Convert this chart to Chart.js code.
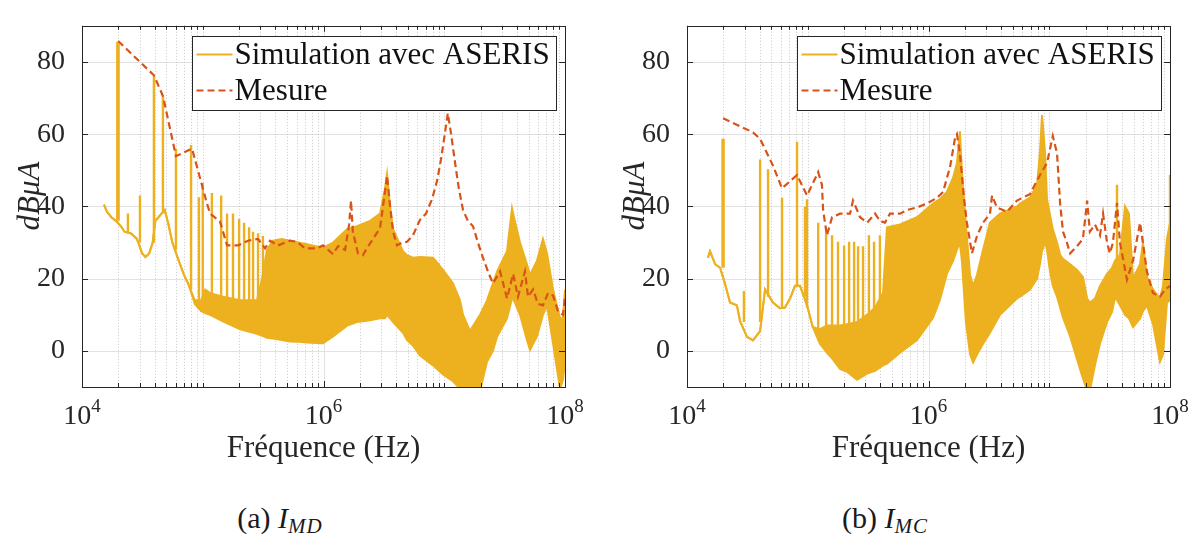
<!DOCTYPE html>
<html>
<head>
<meta charset="utf-8">
<script src="https://cdn.jsdelivr.net/npm/chart.js@4.4.1/dist/chart.umd.min.js"></script>
<style>
html, body { margin: 0; padding: 0; background: #fff; overflow: hidden; }
#page { position: relative; width: 1198px; height: 538px; }
canvas { position: absolute; top: 0; }
.cap { position: absolute; top: 500px; transform: translateX(-50%); font-family: 'Liberation Serif';
       font-size: 30px; line-height: 36px; color: #1a1a1a; white-space: nowrap; }
.cap i { font-style: italic; }
.cap sub { font-style: italic; font-size: 21px; letter-spacing: 1px; vertical-align: -5px; line-height: 0; }
</style>
</head>
<body>
<div id="page">
    <canvas id="chartMD" width="600" height="470" style="left:0px;width:600px;height:470px"></canvas>
    <canvas id="chartMC" width="600" height="470" style="left:598px;width:600px;height:470px"></canvas>
    <div class="cap" style="left:280px">(a) <i>I</i><sub>MD</sub></div>
    <div class="cap" style="left:885px">(b) <i>I</i><sub>MC</sub></div>
</div>
<script>
// axes
const decades = [4, 6, 8];
const yTicks = [0, 20, 40, 60, 80];
const legendLabels = ['Simulation avec ASERIS', 'Mesure'];

// (a) I_MD : simulation envelope (upper / lower edge of the dense trace)
const bandFreqMD = [1.52e4, 1.61e4, 1.75e4, 1.91e4, 2.1e4, 2.25e4, 2.55e4, 2.85e4, 3.15e4, 3.35e4,
    3.6e4, 3.85e4, 4.05e4, 4.3e4, 4.55e4, 4.85e4, 5.2e4, 5.6e4, 6.4e4, 7.0e4,
    7.6e4, 8.6e4, 9.7e4, 1.05e5, 1.15e5, 1.47e5, 2.04e5, 2.81e5, 3.1e5, 3.4e5,
    3.82e5, 4.5e5, 5.28e5, 6.2e5, 7.3e5, 8.6e5, 9.9e5, 1.2e6, 1.57e6, 1.89e6,
    2.43e6, 2.94e6, 3.23e6, 3.36e6, 3.56e6, 3.77e6, 4.55e6, 4.92e6, 5.5e6, 6.3e6,
    8.07e6, 8.71e6, 9.77e6, 1.18e7, 1.35e7, 1.43e7, 1.63e7, 1.98e7, 2.26e7, 2.53e7,
    2.74e7, 3.31e7, 3.64e7, 3.72e7, 4.24e7, 4.84e7, 5.13e7, 5.86e7, 6.57e7, 7.1e7,
    7.96e7, 9.1e7, 9.62e7, 1e8];
const bandHighMD = [40.5, 38.5, 37, 36, 34.5, 33, 32.5, 31, 27, 26,
    27, 30, 36, 37, 38, 39, 35, 30, 24.5, 21,
    18.5, 14, 14, 17, 16, 15, 14, 14, 20, 28,
    30.5, 31, 30.5, 30, 29.5, 29, 28.5, 30, 33.7, 34.5,
    36, 38, 45, 49, 40, 33.7, 27.6, 26.5, 25.8, 26,
    25.8, 24.5, 22.4, 18.7, 14, 10, 5.5, 10, 14, 18.7,
    22, 27.6, 39.5, 38, 30, 24, 21, 25, 31, 27,
    17, 9, 9, 17];
const bandLowMD = [40.5, 38.5, 37, 36, 34.5, 33, 32.5, 31, 27, 26,
    27, 30, 36, 37, 38, 39, 35, 30, 24.5, 21,
    18.5, 13, 11, 10.5, 10, 8.2, 6, 4.7, 4.2, 3.6,
    3.4, 3, 2.6, 2.5, 2.3, 2.2, 2.1, 4, 7, 8,
    8.5, 9, 9, 10, 9, 8, 5, 3, 1.5, -1.3,
    -4, -5, -6.5, -8.4, -10.5, -11, -11, -11, -3, 0,
    4, 9, 14.5, 14.5, 10, 3, 0.3, 4, 10, 12.6,
    2, -10.5, -8, -3];
// resonance spikes
const spikeFreqMD = [1.96e4, 2.01e4, 2.4e4, 3.02e4, 3.94e4, 4.68e4, 6.0e4, 8.0e4, 9.3e4, 1.0e5,
    1.19e5, 1.42e5, 1.59e5, 1.78e5, 2.0e5, 2.2e5, 2.42e5, 2.61e5, 2.87e5, 3.15e5];
const spikeBaseMD = [36, 36, 33, 30, 30, 38, 28, 17, 12, 11,
    14, 14, 14, 14, 14, 14, 14, 14, 14, 20];
const spikeTopMD = [85.5, 85, 38, 43, 76, 70.5, 56, 57, 42.5, 46.5,
    43.7, 43, 38, 38, 36.5, 35.5, 34.2, 33, 32.6, 31.8];
// measurement
const mesureFreqMD = [1.99e4, 3.94e4, 4.69e4, 6.0e4, 8.15e4, 1.08e5, 1.15e5, 1.39e5, 1.59e5, 1.96e5,
    2.37e5, 2.87e5, 3.28e5, 3.61e5, 4.2e5, 5.28e5, 6.04e5, 7.03e5, 8.83e5, 9.9e5,
    1.2e6, 1.32e6, 1.51e6, 1.63e6, 1.69e6, 1.75e6, 1.93e6, 2.12e6, 2.29e6, 2.57e6,
    2.94e6, 3.17e6, 3.36e6, 3.56e6, 3.77e6, 4.06e6, 4.47e6, 4.92e6, 5.51e6, 6.3e6,
    7.06e6, 7.92e6, 8.71e6, 9.4e6, 1.01e7, 1.07e7, 1.14e7, 1.23e7, 1.32e7, 1.43e7,
    1.57e7, 1.73e7, 1.9e7, 2.09e7, 2.3e7, 2.53e7, 2.9e7, 3.31e7, 3.72e7, 4.08e7,
    4.24e7, 4.66e7, 4.94e7, 5.44e7, 5.97e7, 6.57e7, 7.23e7, 7.96e7, 8.75e7, 9.62e7, 1e8];
const mesureMD = [85.8, 76.3, 70.5, 53.9, 56, 41, 38, 35.8, 29.2, 29.2,
    30.5, 31, 28.4, 30.5, 29.2, 30.5, 30.2, 28.4, 28.4, 29.2,
    26.8, 29, 28, 35, 41.6, 33, 27, 26.5, 28.4, 31,
    34, 42, 48.5, 40, 33, 29.2, 30, 30.2, 32, 36.3,
    38, 42, 47, 53, 60, 65.8, 60, 52, 45, 39,
    36, 34.5, 30, 25.8, 22, 18.7, 22, 14.5, 21.3, 15,
    17, 22, 15, 17, 13, 12.6, 16, 15.3, 11, 10, 15];

// (b) I_MC
const bandFreqMC = [1.49e4, 1.55e4, 1.71e4, 1.88e4, 2.06e4, 2.27e4, 2.59e4, 2.75e4, 3.14e4, 3.52e4,
    4.03e4, 4.43e4, 5.15e4, 5.89e4, 6.48e4, 7.13e4, 7.84e4, 8.63e4, 9.31e4, 9.86e4,
    1.1e5, 1.26e5, 1.44e5, 1.62e5, 1.85e5, 2.11e5, 2.56e5, 3.1e5, 3.61e5, 4.2e5,
    4.53e5, 5.81e5, 8.03e5, 1.09e6, 1.24e6, 1.42e6, 1.6e6, 1.72e6, 1.82e6, 1.89e6,
    2.04e6, 2.21e6, 2.34e6, 2.52e6, 2.83e6, 3.23e6, 3.91e6, 5.4e6, 5.73e6, 6.93e6,
    7.92e6, 8.38e6, 8.71e6, 9.23e6, 9.58e6, 1.01e7, 1.07e7, 1.16e7, 1.23e7, 1.3e7,
    1.49e7, 1.7e7, 1.9e7, 2.06e7, 2.17e7, 2.39e7, 2.63e7, 3.01e7, 3.31e7, 3.51e7,
    3.85e7, 4.24e7, 4.57e7, 4.94e7, 5.65e7, 5.97e7, 6.44e7, 7.23e7, 8.26e7, 8.75e7,
    9.44e7, 1e8];
const bandHighMC = [25.8, 27.6, 24, 23, 18.7, 13.4, 12.6, 8.2, 3.9, 2.9,
    5.5, 17, 13.4, 11.8, 12, 14.5, 18, 18, 15, 12.6,
    6.6, 6, 7, 7, 7, 7.4, 8, 10, 12, 16,
    34.2, 35, 37, 40.8, 42, 44, 48, 52, 60.8, 50,
    35, 21, 18, 21, 28, 35.5, 38, 40, 40.8, 42.4,
    46, 55, 65.3, 55, 42, 38, 33.7, 30, 26.6, 25.5,
    24, 22.4, 20.5, 14.5, 13.4, 14.5, 18, 21.3, 23, 25,
    26.6, 40, 38, 20, 24, 30, 20.5, 17, 14.5, 18,
    31, 35.5];
const bandLowMC = [25.8, 27.6, 24, 23, 18.7, 13.4, 12.6, 8.2, 3.9, 2.9,
    5.5, 17, 13.4, 11.8, 12, 14.5, 18, 18, 15, 12.6,
    6.6, 2, -0.5, -2.4, -5, -5.8, -8, -6.3, -5.5, -4,
    -3.5, -0.5, 3, 9.2, 14, 21.3, 25, 28, 30, 25,
    8, -1, -3.2, -1, 2, 5, 10, 14.5, 15, 17,
    20, 24, 27.6, 30, 28, 22.4, 18, 15, 12, 9.2,
    4, -2.4, -7.6, -11, -11, -4, 2, 8, 10.8, 15,
    12.6, 10, 9, 6.6, 9, 11, 12.6, 7.4, -3, -1,
    13.4, 14];
const spikeFreqMC = [1.97e4, 2.01e4, 2.96e4, 4.03e4, 4.69e4, 6.12e4, 8.15e4, 9.49e4, 9.86e4, 1.22e5,
    1.42e5, 1.59e5, 1.78e5, 2.0e5, 2.2e5, 2.42e5, 2.61e5, 2.87e5, 3.21e5, 3.54e5,
    3.96e5, 3.64e7, 1e8];
const spikeBaseMC = [23, 23, 8, 8, 15, 12, 18, 15, 12, 6,
    6, 6, 6, 6, 7, 7, 7, 8, 9, 10,
    11, 20, 14];
const spikeTopMC = [58.7, 58.7, 16.6, 53, 50.3, 42.4, 57.9, 40, 42, 35.5,
    33, 32, 30.2, 29.2, 30.2, 30.2, 29, 29, 32, 30.2,
    32, 46, 48.7];
const mesureFreqMC = [1.99e4, 3.52e4, 4.03e4, 5.15e4, 6.12e4, 8.15e4, 8.63e4, 9.86e4, 1.22e5, 1.31e5,
    1.34e5, 1.44e5, 1.59e5, 1.85e5, 2.24e5, 2.37e5, 2.56e5, 2.71e5, 3.1e5, 3.61e5,
    3.96e5, 4.36e5, 4.8e5, 5.81e5, 6.64e5, 8.03e5, 9.72e5, 1.18e6, 1.32e6, 1.51e6,
    1.66e6, 1.72e6, 1.82e6, 1.97e6, 2.08e6, 2.29e6, 2.52e6, 2.83e6, 3.23e6, 3.36e6,
    3.69e6, 4.47e6, 5.4e6, 6.93e6, 8.38e6, 9.58e6, 1.07e7, 1.16e7, 1.23e7, 1.3e7,
    1.4e7, 1.49e7, 1.7e7, 1.9e7, 2.06e7, 2.17e7, 2.39e7, 2.63e7, 2.79e7, 3.01e7,
    3.18e7, 3.37e7, 3.64e7, 3.85e7, 4.4e7, 4.94e7, 5.65e7, 6.44e7, 7.23e7, 8.26e7,
    9.1e7, 1e8];
const mesureMC = [64.4, 60.5, 58.7, 51.3, 45, 48.7, 47, 43, 49.5, 46,
    39, 32, 37, 38, 38, 41.6, 39, 37, 35.5, 38,
    36, 35.5, 38, 38, 39, 39.7, 40.8, 42.4, 44, 51,
    59, 60, 54.7, 42, 35.5, 27, 31.8, 35.5, 38, 43,
    39.7, 38.5, 41.6, 43.4, 48.7, 52, 59.5, 54.7, 40.8, 33,
    30, 27, 29, 31, 41.6, 33, 35, 32, 38, 30,
    27, 30, 41, 30, 19.7, 25, 35.5, 22, 16, 15,
    17, 18];

const simColor = '#EDB120';
const mesColor = '#D95319';
const ink = '#262626';
const serif = "'Liberation Serif'";

function toPoints(f, v) {
    return f.map((x, i) => ({ x: x, y: v[i] }));
}

// vertical segments, separated by gaps
function toSpikes(f, base, top) {
    const out = [];
    f.forEach((x, i) => {
        out.push({ x: x, y: base[i] }, { x: x, y: top[i] }, { x: x, y: null });
    });
    return out;
}

function hLine(ctx, x1, x2, y) {
    ctx.beginPath(); ctx.moveTo(x1, y); ctx.lineTo(x2, y); ctx.stroke();
}
function vLine(ctx, x, y1, y2) {
    ctx.beginPath(); ctx.moveTo(x, y1); ctx.lineTo(x, y2); ctx.stroke();
}

// MATLAB-like frame: grids, box, inward ticks, tick labels, titles, legend
const matlabAxes = {
    id: 'matlabAxes',
    beforeDatasetsDraw(chart) {
        const { ctx, chartArea: a, scales: { x, y } } = chart;
        ctx.save();
        ctx.lineWidth = 1;
        ctx.strokeStyle = '#e2e2e2';
        yTicks.forEach(v => hLine(ctx, a.left, a.right, Math.round(y.getPixelForValue(v)) + 0.5));
        ctx.setLineDash([1, 2]);
        ctx.strokeStyle = '#c8c8c8';
        for (let k = 4; k < 8; k++) {
            for (let m = 1; m < 10; m++) {
                if (m === 1 && k % 2 === 0) continue;
                vLine(ctx, Math.round(x.getPixelForValue(m * Math.pow(10, k))) + 0.5, a.top, a.bottom);
            }
        }
        ctx.setLineDash([]);
        ctx.strokeStyle = '#e2e2e2';
        decades.forEach(d => vLine(ctx, Math.round(x.getPixelForValue(Math.pow(10, d))) + 0.5, a.top, a.bottom));
        ctx.restore();
    },
    afterDatasetsDraw(chart) {
        const { ctx, chartArea: a, scales: { x, y } } = chart;
        ctx.save();
        ctx.strokeStyle = ink;
        ctx.lineWidth = 1;
        // ticks
        for (let k = 4; k < 8; k++) {
            for (let m = 1; m < 10; m++) {
                const major = m === 1 && k % 2 === 0;
                const px = Math.round(x.getPixelForValue(m * Math.pow(10, k))) + 0.5;
                const len = major ? 6 : 4;
                vLine(ctx, px, a.bottom, a.bottom - len);
                vLine(ctx, px, a.top, a.top + len);
            }
        }
        yTicks.forEach(v => {
            const py = Math.round(y.getPixelForValue(v)) + 0.5;
            hLine(ctx, a.left, a.left + 6, py);
            hLine(ctx, a.right, a.right - 6, py);
        });
        ctx.strokeRect(Math.round(a.left) + 0.5, Math.round(a.top) + 0.5,
            Math.round(a.right - a.left), Math.round(a.bottom - a.top));

        // x tick labels 10^n
        ctx.fillStyle = ink;
        ctx.textBaseline = 'alphabetic';
        decades.forEach(d => {
            const px = x.getPixelForValue(Math.pow(10, d));
            ctx.font = '28px ' + serif;
            const wb = ctx.measureText('10').width;
            ctx.font = '19px ' + serif;
            const we = ctx.measureText(String(d)).width;
            const left = px - (wb + we) / 2;
            ctx.font = '28px ' + serif;
            ctx.textAlign = 'left';
            ctx.fillText('10', left, 424);
            ctx.font = '19px ' + serif;
            ctx.fillText(String(d), left + wb, 412);
        });

        // axis titles
        ctx.font = '31px ' + serif;
        ctx.textAlign = 'center';
        ctx.fillText('Fréquence (Hz)', (a.left + a.right) / 2, 457);
        ctx.save();
        ctx.translate(a.left - 51, 196);
        ctx.rotate(-Math.PI / 2);
        ctx.font = 'italic 31px ' + serif;
        ctx.textBaseline = 'middle';
        ctx.fillText('dBμA', 0, 0);
        ctx.restore();

        // legend
        const bw = 364, bh = 74;
        const bx = Math.round(a.right - 9 - bw) + 0.5, by = Math.round(a.top + 10) + 0.5;
        ctx.fillStyle = '#fff';
        ctx.fillRect(bx, by, bw, bh);
        ctx.strokeStyle = ink;
        ctx.lineWidth = 1;
        ctx.strokeRect(bx, by, bw, bh);
        const rows = [by + 18, by + 54];
        ctx.lineWidth = 2;
        ctx.strokeStyle = simColor;
        hLine(ctx, bx + 4, bx + 40, rows[0]);
        ctx.strokeStyle = mesColor;
        ctx.setLineDash([7, 4]);
        hLine(ctx, bx + 4, bx + 40, rows[1]);
        ctx.setLineDash([]);
        ctx.fillStyle = '#111';
        ctx.font = '31px ' + serif;
        ctx.textAlign = 'left';
        ctx.textBaseline = 'middle';
        legendLabels.forEach((t, i) => ctx.fillText(t, bx + 42, rows[i] + 1));
        ctx.restore();
    }
};

function makeChart(id, d, leftW, rightPad) {
    return new Chart(document.getElementById(id), {
        type: 'line',
        data: {
            datasets: [
                {
                    label: legendLabels[1], data: toPoints(d.mesF, d.mes), order: 0,
                    borderColor: mesColor, borderWidth: 2.2, borderDash: [7, 4]
                },
                {
                    label: 'spikes', data: toSpikes(d.spF, d.spB, d.spT), order: 1,
                    borderColor: simColor, borderWidth: 2.4, spanGaps: false
                },
                {
                    label: legendLabels[0], data: toPoints(d.bandF, d.hi), order: 2,
                    borderColor: simColor, borderWidth: 2
                },
                {
                    label: 'low', data: toPoints(d.bandF, d.lo), order: 3,
                    borderColor: simColor, borderWidth: 2, fill: '-1', backgroundColor: simColor
                }
            ]
        },
        options: {
            responsive: false,
            animation: false,
            devicePixelRatio: 1,
            layout: { padding: { top: 5, right: rightPad, bottom: 0, left: 0 } },
            elements: { point: { radius: 0 }, line: { tension: 0, borderCapStyle: 'butt' } },
            plugins: { legend: { display: false }, tooltip: { enabled: false } },
            scales: {
                x: {
                    type: 'logarithmic', min: 1e4, max: 1e8,
                    grid: { display: false }, border: { display: false },
                    ticks: { display: false },
                    afterFit: s => { s.height = 83; }
                },
                y: {
                    type: 'linear', min: -10, max: 90,
                    grid: { display: false }, border: { display: false },
                    afterBuildTicks: s => { s.ticks = yTicks.map(v => ({ value: v })); },
                    ticks: {
                        color: ink, padding: 9,
                        font: { family: serif, size: 28 },
                        callback: v => String(v)
                    },
                    afterFit: s => { s.width = leftW; }
                }
            }
        },
        plugins: [matlabAxes]
    });
}

function drawAll() {
    makeChart('chartMD', {
        bandF: bandFreqMD, hi: bandHighMD, lo: bandLowMD,
        spF: spikeFreqMD, spB: spikeBaseMD, spT: spikeTopMD,
        mesF: mesureFreqMD, mes: mesureMD
    }, 82, 35);
    makeChart('chartMC', {
        bandF: bandFreqMC, hi: bandHighMC, lo: bandLowMC,
        spF: spikeFreqMC, spB: spikeBaseMC, spT: spikeTopMC,
        mesF: mesureFreqMC, mes: mesureMC
    }, 89, 28);
}

// make sure the serif face is ready before the canvases use it
Promise.all([
    document.fonts.load("28px 'Liberation Serif'"),
    document.fonts.load("italic 28px 'Liberation Serif'")
]).catch(() => {}).then(drawAll);
</script>
</body>
</html>
